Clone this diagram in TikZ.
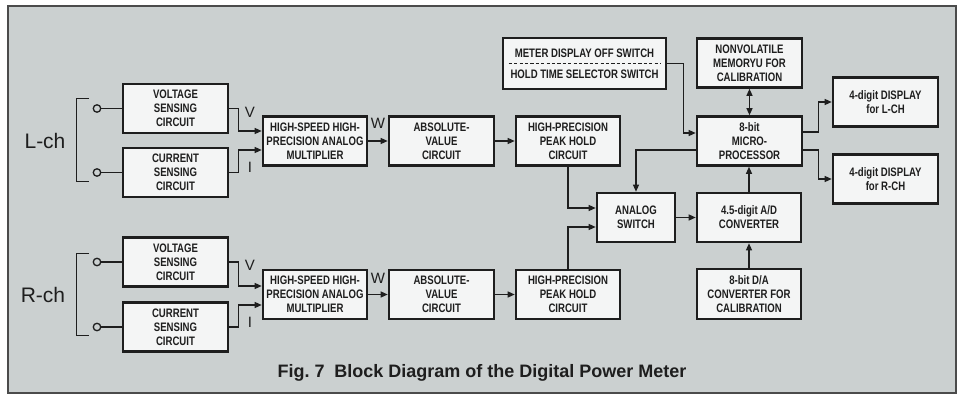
\documentclass[tikz,border=0pt]{standalone}
\usepackage{fontspec}
\setmainfont{Liberation Sans}
\newfontfamily\blockfont[FakeStretch=0.78]{Liberation Sans}
\usetikzlibrary{arrows.meta, positioning}
\definecolor{panelgray}{RGB}{203,208,208}
\definecolor{boxfill}{RGB}{244,245,245}
\definecolor{ink}{RGB}{30,30,30}

\begin{document}
\begin{tikzpicture}[x=1pt, y=-1pt,
      block/.style={rectangle, draw=ink, fill=boxfill, line width=2.6pt, text=ink,
        minimum width=105pt, minimum height=49pt, inner sep=1pt, align=center,
        font=\blockfont\bfseries\fontsize{12.3}{14}\selectfont},
      term/.style={circle, draw=ink, fill=panelgray, line width=1.3pt, inner sep=0pt, minimum size=7.5pt},
      wire/.style={draw=ink, line width=1.2pt},
      flow/.style={wire, -{Triangle[length=7pt, width=6pt]}},
      sig/.style={text=ink, inner sep=0pt, font=\fontsize{15}{16}\selectfont},
      chlabel/.style={text=ink, inner sep=0pt, font=\fontsize{21}{22}\selectfont}]

      % Background panel
      \fill[white] (0,0) rectangle (970,396);
      \draw[fill=panelgray, draw=ink!80, line width=1.2pt] (8,6) rectangle (956,393);

      % Left channel blocks
      \node[block] (vL) at (175.5,108.5) {VOLTAGE\\SENSING\\CIRCUIT};
      \node[block] (iL) at (175.5,172.5) {CURRENT\\SENSING\\CIRCUIT};
      \node[block, minimum width=104pt] (mulL) at (315,141) {HIGH-SPEED HIGH-\\PRECISION ANALOG\\MULTIPLIER};
      \node[block] (absL) at (441.5,141) {ABSOLUTE-\\VALUE\\CIRCUIT};
      \node[block, minimum width=104pt] (pkL) at (568,141) {HIGH-PRECISION\\PEAK HOLD\\CIRCUIT};

      % Right channel blocks
      \node[block] (vR) at (175.5,262) {VOLTAGE\\SENSING\\CIRCUIT};
      \node[block] (iR) at (175.5,327) {CURRENT\\SENSING\\CIRCUIT};
      \node[block, minimum width=104pt] (mulR) at (315,294.5) {HIGH-SPEED HIGH-\\PRECISION ANALOG\\MULTIPLIER};
      \node[block] (absR) at (441.5,294.5) {ABSOLUTE-\\VALUE\\CIRCUIT};
      \node[block, minimum width=104pt] (pkR) at (568,294.5) {HIGH-PRECISION\\PEAK HOLD\\CIRCUIT};

      % Processing blocks
      \node[block, minimum width=163pt, minimum height=51pt] (sw) at (584.5,63.5) {METER DISPLAY OFF SWITCH\\[7pt]HOLD TIME SELECTOR SWITCH};
      \node[block] (nvm) at (749.5,63) {NONVOLATILE\\MEMORYU FOR\\CALIBRATION};
      \node[block] (mpu) at (749.5,141) {8-bit\\MICRO-\\PROCESSOR};
      \node[block] (dispL) at (885.5,102) {4-digit DISPLAY\\for L-CH};
      \node[block] (dispR) at (885.5,179) {4-digit DISPLAY\\for R-CH};
      \node[block, minimum width=78pt] (asw) at (636,217.5) {ANALOG\\SWITCH};
      \node[block, minimum width=104pt] (adc) at (749,217.5) {4.5-digit A/D\\CONVERTER};
      \node[block, minimum width=104pt, minimum height=50pt] (dac) at (749,294) {8-bit D/A\\CONVERTER FOR\\CALIBRATION};
      \draw[wire, line width=1pt, dash pattern=on 3.2pt off 2.2pt] ([xshift=7pt]sw.west) -- ([xshift=-7pt]sw.east);

      % Input terminals and channel brackets
      \node[term] (tvL) at (97,108.5) {};
      \node[term] (tiL) at (97,172.5) {};
      \node[term] (tvR) at (97,262) {};
      \node[term] (tiR) at (97,327) {};
      \draw[wire] (tvL) -- (vL);
      \draw[wire] (tiL) -- (iL);
      \draw[wire] (tvR) -- (vR);
      \draw[wire] (tiR) -- (iR);
      \draw[wire, line width=1pt] (89,99) -- (76,99) -- (76,181) -- (89,181);
      \draw[wire, line width=1pt] (89,253) -- (76,253) -- (76,335) -- (89,335);
      \node[chlabel] (lch) at (45,141) {L-ch};
      \node[chlabel] (rch) at (43,295) {R-ch};

      % Sensing to multiplier
      \draw[flow] (vL.east) -- ++(9,0) |- ([yshift=10pt]mulL.west);
      \draw[flow] (iL.east) -- ++(9,0) |- ([yshift=-9pt]mulL.west);
      \draw[flow] (vR.east) -- ++(9,0) |- ([yshift=8.5pt]mulR.west);
      \draw[flow] (iR.east) -- ++(9,0) |- ([yshift=-10.5pt]mulR.west);
      \node[sig] (vlabL) at (250,112) {V};
      \node[sig] (ilabL) at (250,167) {I};
      \node[sig] (vlabR) at (250,265) {V};
      \node[sig] (ilabR) at (250,322) {I};

      % Signal chain
      \foreach \ch in {L, R} {
        \draw[flow] (mul\ch) -- (abs\ch);
        \draw[flow] (abs\ch) -- (pk\ch);
      }
      \node[sig] (wlabL) at (378,123) {W};
      \node[sig] (wlabR) at (378,278) {W};
      \draw[flow] (pkL.south) |- ([yshift=9.5pt]asw.west);
      \draw[flow] (pkR.north) |- ([yshift=-9.5pt]asw.west);
      \draw[flow] (asw) -- (adc);
      \draw[flow] (dac.north) -- (adc.south);
      \draw[flow] (adc.north) -- (adc.north |- mpu.south);
      \draw[wire, {Triangle[length=7pt, width=6pt]}-{Triangle[length=7pt, width=6pt]}] (nvm.south) -- (nvm.south |- mpu.north);

      % Processor connections
      \draw[flow] (sw.east) -- ++(16,0) |- ([yshift=8pt]mpu.west);
      \draw[flow] ([yshift=-9pt]mpu.west) -| (asw.north);
      \draw[flow] ([yshift=9pt]mpu.east) -- ++(15,0) |- (dispL.west);
      \draw[flow] ([yshift=-9pt]mpu.east) -- ++(15,0) |- (dispR.west);

      % Caption
      \node[text=ink, font=\bfseries\fontsize{18}{20}\selectfont] (caption) at (482,373)
        {Fig.~7\hspace{0.55em}Block Diagram of the Digital Power Meter};
    \end{tikzpicture}
\end{document}
